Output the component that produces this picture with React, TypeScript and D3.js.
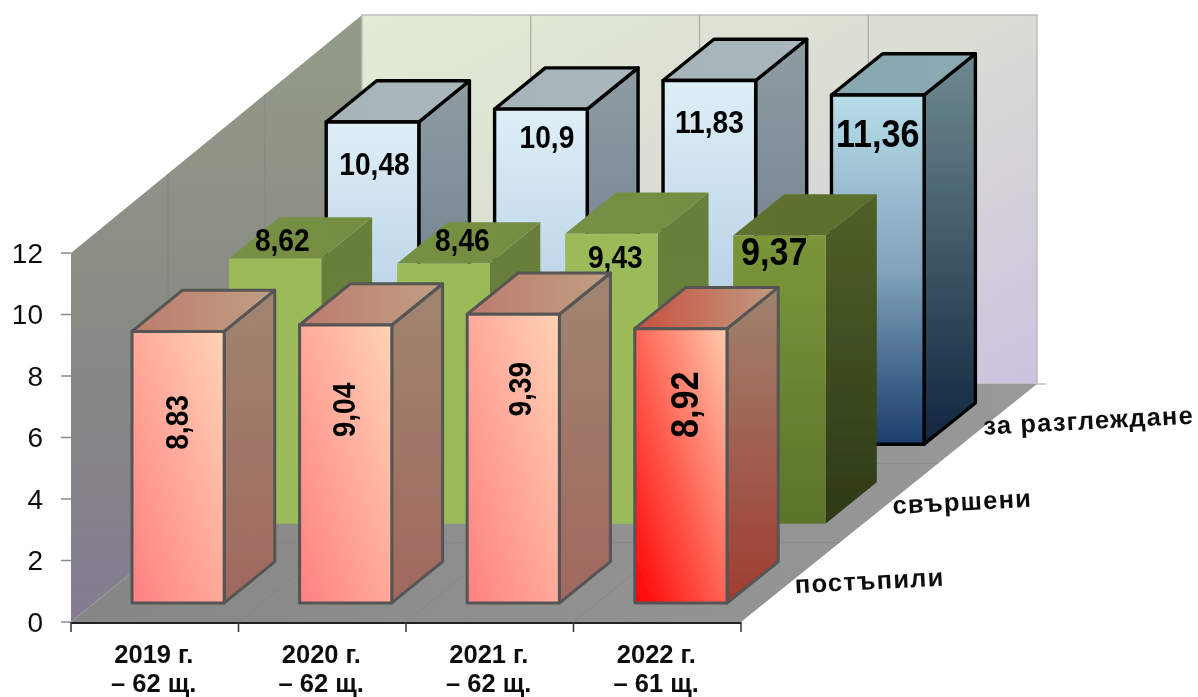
import React from "react";
import * as d3 from "d3";

const categories = ["2019 г.", "2020 г.", "2021 г.", "2022 г."];
const categoryNotes = ["– 62 щ.", "– 62 щ.", "– 62 щ.", "– 61 щ."];
const seriesNames = ["постъпили", "свършени", "за разглеждане"];
const received = [8.83, 9.04, 9.39, 8.92];
const completed = [8.62, 8.46, 9.43, 9.37];
const pending = [10.48, 10.9, 11.83, 11.36];
const yTicks = [0, 2, 4, 6, 8, 10, 12];
const seriesLabelShift = [5, 4, -4];

const W = 1198, H = 697;
const X0 = 71, X1 = 741, Y0 = 622, Y12 = 253, DEPTH_Y = 238, DEPTH_XL = 291, DEPTH_XR = 296;
const FONT = "'Liberation Sans', Arial, sans-serif";

const x = d3.scaleBand<string>().domain(categories).range([X0, X1]).paddingInner(0.45).paddingOuter(0.225);
const y = d3.scaleLinear().domain([0, 12]).range([Y0, Y12]);
const depth = d3.scaleBand<string>().domain(seriesNames).range([0, 1]).paddingInner(0.48).paddingOuter(0.24);

// oblique projection: px on the front edge, value, depth fraction
function proj(px: number, v: number, d: number): [number, number] {
  const shift = DEPTH_XL + ((px - X0) / (X1 - X0)) * (DEPTH_XR - DEPTH_XL);
  return [px + d * shift, y(v) - d * DEPTH_Y];
}
const poly = (pts: [number, number][]) => (d3.line()(pts) as string) + "Z";

type Stop = [string, string];
type Grad = { id: string; x1: number; y1: number; x2: number; y2: number; stops: Stop[] };
const V = { x1: 0, y1: 0, x2: 0, y2: 1 };
const U = { x1: 0, y1: 1, x2: 1, y2: 0 };
const H_ = { x1: 0, y1: 0, x2: 1, y2: 0 };
const grads: Grad[] = [
  { id: "back", x1: 0, y1: 0, x2: 1, y2: 1, stops: [["0", "#e1ecd3"], ["0.5", "#d9dcd4"], ["1", "#cdc2df"]] },
  { id: "side", ...V, stops: [["0", "#939c88"], ["0.6", "#868884"], ["1", "#857c92"]] },
  { id: "floor", ...H_, stops: [["0", "#868686"], ["1", "#999999"]] },
  { id: "bf", ...V, stops: [["0", "#deeff6"], ["1", "#a0bcdc"]] },
  { id: "bs", ...V, stops: [["0", "#8f9ca2"], ["1", "#5f7185"]] },
  { id: "bt", ...H_, stops: [["0", "#a6b3b9"], ["1", "#a9b6bc"]] },
  { id: "bfH", ...V, stops: [["0", "#b8dde9"], ["0.5", "#7fa4bb"], ["1", "#1c3d6c"]] },
  { id: "bsH", ...V, stops: [["0", "#6f8a90"], ["1", "#10263f"]] },
  { id: "btH", ...H_, stops: [["0", "#89a7b0"], ["1", "#8aa9b2"]] },
  { id: "gf", ...V, stops: [["0", "#9bbb59"], ["1", "#9bbb59"]] },
  { id: "gs", ...V, stops: [["0", "#687f3a"], ["1", "#688039"]] },
  { id: "gt", ...H_, stops: [["0", "#769044"], ["1", "#748d42"]] },
  { id: "gfH", ...V, stops: [["0", "#7b9739"], ["1", "#5c742b"]] },
  { id: "gsH", ...V, stops: [["0", "#4f6127"], ["1", "#2c3917"]] },
  { id: "gtH", ...H_, stops: [["0", "#5f7230"], ["1", "#5b6e2c"]] },
  { id: "rf", ...U, stops: [["0", "#ff8080"], ["1", "#ffd3b4"]] },
  { id: "rs", ...V, stops: [["0", "#a08570"], ["1", "#a0685f"]] },
  { id: "rt", ...H_, stops: [["0", "#bd7b6d"], ["1", "#c09f83"]] },
  { id: "rfH", ...U, stops: [["0", "#ff0000"], ["1", "#ffcbad"]] },
  { id: "rsH", ...V, stops: [["0", "#a08470"], ["1", "#a03c30"]] },
  { id: "rtH", ...H_, stops: [["0", "#c9503f"], ["1", "#c09c82"]] },
];

type Row = {
  name: string; values: number[]; key: string; stroke: string; sw: number;
  offsets: [number, number][]; rotate: boolean;
};
// drawn from the back row to the front row
const rows: Row[] = [
  { name: seriesNames[2], values: pending, key: "b", stroke: "#000", sw: 3.4, rotate: false,
    offsets: [[2, 42], [6, 28], [0, 41], [0, 39]] },
  { name: seriesNames[1], values: completed, key: "g", stroke: "none", sw: 0, rotate: false,
    offsets: [[7, -19], [19, -24], [4, 23], [-5, 16]] },
  { name: seriesNames[0], values: received, key: "r", stroke: "#555", sw: 3, rotate: true,
    offsets: [[-1, 91], [-2, 85], [7, 75], [4, 76]] },
];

const corners: [number, number][] = [[0, 0], [1, 0], [1, 1], [0, 1]];

export default function App() {
  const depthLines = [1 / 3, 2 / 3];
  const xEdges = categories.map((_, i) => X0 + (i * (X1 - X0)) / categories.length).concat(X1);
  return (
    <svg width={W} height={H} viewBox={`0 0 ${W} ${H}`} style={{ position: "absolute", left: 0, top: 0, background: "#fff" }}>
      <defs>
        {grads.map((g) => (
          <linearGradient key={g.id} id={g.id} x1={g.x1} y1={g.y1} x2={g.x2} y2={g.y2}>
            {g.stops.map(([o, c]) => <stop key={o} offset={o} stopColor={c} />)}
          </linearGradient>
        ))}
        <filter id="soft" x="0" y="0" width="100%" height="100%" filterUnits="objectBoundingBox">
          <feGaussianBlur stdDeviation="0.7" />
        </filter>
      </defs>
      <g filter="url(#soft)">
        <rect width={W} height={H} fill="#fff" />
        {/* walls and floor */}
        <path d={poly([proj(X0, 12, 0), proj(X0, 12, 1), proj(X0, 0, 1), proj(X0, 0, 0)])} fill="url(#side)" />
        <path d={poly([proj(X0, 12, 1), proj(X1, 12, 1), proj(X1, 0, 1), proj(X0, 0, 1)])} fill="url(#back)" stroke="#bdbdbd" strokeWidth={1.5} />
        <path d={poly([proj(X0, 0, 0), proj(X1, 0, 0), proj(X1, 0, 1), proj(X0, 0, 1)])} fill="url(#floor)" />
        {xEdges.slice(1, -1).map((e) => {
          const a = proj(e, 12, 1), b = proj(e, 0, 1), c = proj(e, 0, 0);
          return (
            <g key={e}>
              <line x1={a[0]} y1={a[1]} x2={b[0]} y2={b[1]} stroke="#aaa" strokeWidth={1.2} />
              <line x1={b[0]} y1={b[1]} x2={c[0]} y2={c[1]} stroke="#7d7d7d" strokeWidth={1} opacity={0.5} />
            </g>
          );
        })}
        {depthLines.map((d) => {
          const a = proj(X0, 12, d), b = proj(X0, 0, d), c = proj(X1, 0, d);
          return (
            <g key={d}>
              <line x1={a[0]} y1={a[1]} x2={b[0]} y2={b[1]} stroke="#7b7e78" strokeWidth={1} opacity={0.6} />
              <line x1={b[0]} y1={b[1]} x2={c[0]} y2={c[1]} stroke="#7d7d7d" strokeWidth={1} opacity={0.5} />
            </g>
          );
        })}
        {/* y axis */}
        {yTicks.map((t) => (
          <g key={t}>
            <line x1={X0 - 10} x2={X0} y1={y(t)} y2={y(t)} stroke="#8a8a8a" strokeWidth={1.5} />
            <text x={43} y={y(t)} dy="0.35em" textAnchor="end" fontFamily={FONT} fontSize={28} fill="#111">{t}</text>
          </g>
        ))}
        <line x1={proj(X1, 0, 1)[0]} x2={proj(X1, 0, 1)[0] + 9} y1={proj(X1, 0, 1)[1]} y2={proj(X1, 0, 1)[1]} stroke="#b5b5b5" strokeWidth={1.2} />
        {/* x axis */}
        <line x1={X0} x2={X1} y1={Y0 + 1} y2={Y0 + 1} stroke="#222" strokeWidth={2} />
        {xEdges.map((e) => (
          <line key={e} x1={e} x2={e} y1={Y0} y2={Y0 + 10} stroke="#333" strokeWidth={1.5} />
        ))}
        {categories.map((c, i) => {
          const cx = X0 + ((i + 0.5) * (X1 - X0)) / categories.length - 1;
          return (
            <text key={c} textAnchor="middle" fontFamily={FONT} fontWeight="bold" fontSize={25.5} fill="#111">
              <tspan x={cx} y={663}>{c}</tspan>
              <tspan x={cx} y={691.5}>{categoryNotes[i]}</tspan>
            </text>
          );
        })}
        {/* series labels on the depth axis */}
        {seriesNames.map((s, i) => {
          const d = (depth(s) as number) + depth.bandwidth() / 2;
          const [px, py] = proj(X1, 0, d);
          return (
            <text key={s} transform={`translate(${px + seriesLabelShift[i]},${py + 11}) rotate(-3)`} fontFamily={FONT} fontWeight="bold" fontSize={25.5} letterSpacing={1.2} fill="#111">{s}</text>
          );
        })}
        {/* bars */}
        {rows.map((r) => {
          const d0 = depth(r.name) as number;
          const d1 = d0 + depth.bandwidth();
          return (
            <g key={r.key}>
              {r.values.map((v, i) => {
                const xl = x(categories[i]) as number;
                const xr = xl + x.bandwidth();
                const hi = i === categories.length - 1 ? "H" : "";
                const fs = hi ? 38 : 32;
                const sx = hi ? 0.9 : 0.88;
                const front = corners.map(([a, b]) => proj(a ? xr : xl, b ? 0 : v, d0));
                const side: [number, number][] = [proj(xr, v, d0), proj(xr, v, d1), proj(xr, 0, d1), proj(xr, 0, d0)];
                const top: [number, number][] = [proj(xl, v, d0), proj(xl, v, d1), proj(xr, v, d1), proj(xr, v, d0)];
                const cx = (xl + xr) / 2;
                const [lx, ly] = proj(cx, v, d0);
                const [ox, oy] = r.offsets[i];
                const common = { stroke: r.stroke, strokeWidth: r.sw, strokeLinejoin: "round" as const };
                return (
                  <g key={categories[i]}>
                    <path d={poly(side)} fill={`url(#${r.key}s${hi})`} {...common} />
                    <path d={poly(top)} fill={`url(#${r.key}t${hi})`} {...common} />
                    <path d={poly(front)} fill={`url(#${r.key}f${hi})`} {...common} />
                    <text
                      transform={`translate(${lx + ox},${ly + oy})${r.rotate ? " rotate(-90)" : ""} scale(${sx},1)`}
                      textAnchor="middle" dy="0.35em" fontFamily={FONT} fontWeight="bold" fontSize={fs} fill="#000"
                    >
                      {d3.format(".2~f")(v).replace(".", ",")}
                    </text>
                  </g>
                );
              })}
            </g>
          );
        })}
      </g>
    </svg>
  );
}
